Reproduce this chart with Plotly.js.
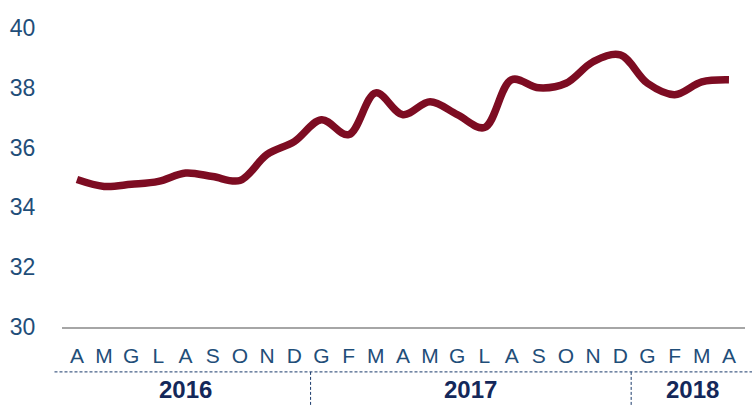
<!DOCTYPE html>
<html>
<head>
<meta charset="utf-8">
<script src="https://cdn.plot.ly/plotly-3.0.1.min.js"></script>
<style>html,body{margin:0;padding:0;background:#fff;}#chart{width:752px;height:405px;}</style>
</head>
<body>
<div id="chart"></div>
<script>
var monthLabels = ["A","M","G","L","A","S","O","N","D","G","F","M","A","M","G","L","A","S","O","N","D","G","F","M","A"];
var values = [34.93,34.7,34.77,34.87,35.15,35.03,34.9,35.77,36.2,36.93,36.43,37.83,37.1,37.53,37.1,36.67,38.27,38.0,38.15,38.87,39.1,38.15,37.77,38.2,38.27];
var years = ["2016","2017","2018"];
var yearCenters = [4, 14.5, 22.67];
var yearBreaks = [8.6, 20.4];

var idx = monthLabels.map(function(_, i){ return i; });

var navy = "#1a3a6b";
var shapes = [{type:"line", xref:"paper", yref:"paper", x0:-0.011, x1:1.02, y0:-0.143, y1:-0.143,
  line:{color:navy, width:1, dash:"3px,2px"}}];
yearBreaks.forEach(function(b){
  shapes.push({type:"line", xref:"x", yref:"paper", x0:b, x1:b, y0:-0.143, y1:-0.26,
    line:{color:navy, width:1, dash:"3px,2px"}});
});
var annotations = years.map(function(y, i){
  return {x:yearCenters[i], y:-0.2, xref:"x", yref:"paper", text:"<b>"+y+"</b>", showarrow:false,
    font:{family:"Liberation Sans, Arial, sans-serif", size:24, color:"#14285a"}, xanchor:"center", yanchor:"middle"};
});

Plotly.newPlot("chart", [{
  x: idx, y: values, type:"scatter", mode:"lines",
  line:{color:"#7d0c22", width:7.5, shape:"spline", smoothing:1},
  hoverinfo:"skip"
}], {
  width:752, height:405,
  margin:{l:62, r:7, t:13, b:78},
  paper_bgcolor:"#fff", plot_bgcolor:"#fff",
  showlegend:false,
  xaxis:{range:[-0.55,24.59], tickvals:idx, ticktext:monthLabels, showgrid:false, zeroline:false,
    showline:true, linecolor:"#a6a6a6", linewidth:1.5,
    ticks:"outside", ticklen:9, tickcolor:"rgba(0,0,0,0)",
    tickfont:{family:"Liberation Sans, Arial, sans-serif", size:21, color:"#1f4e79"}, fixedrange:true},
  yaxis:{range:[30,40.5], tickvals:[30,32,34,36,38,40], showgrid:false, zeroline:false, showline:false,
    ticks:"outside", ticklen:21, tickcolor:"rgba(0,0,0,0)",
    tickfont:{family:"Liberation Sans, Arial, sans-serif", size:23, color:"#1f4e79"}, fixedrange:true},
  shapes:shapes,
  annotations:annotations
}, {displayModeBar:false, staticPlot:true});
</script>
</body>
</html>
